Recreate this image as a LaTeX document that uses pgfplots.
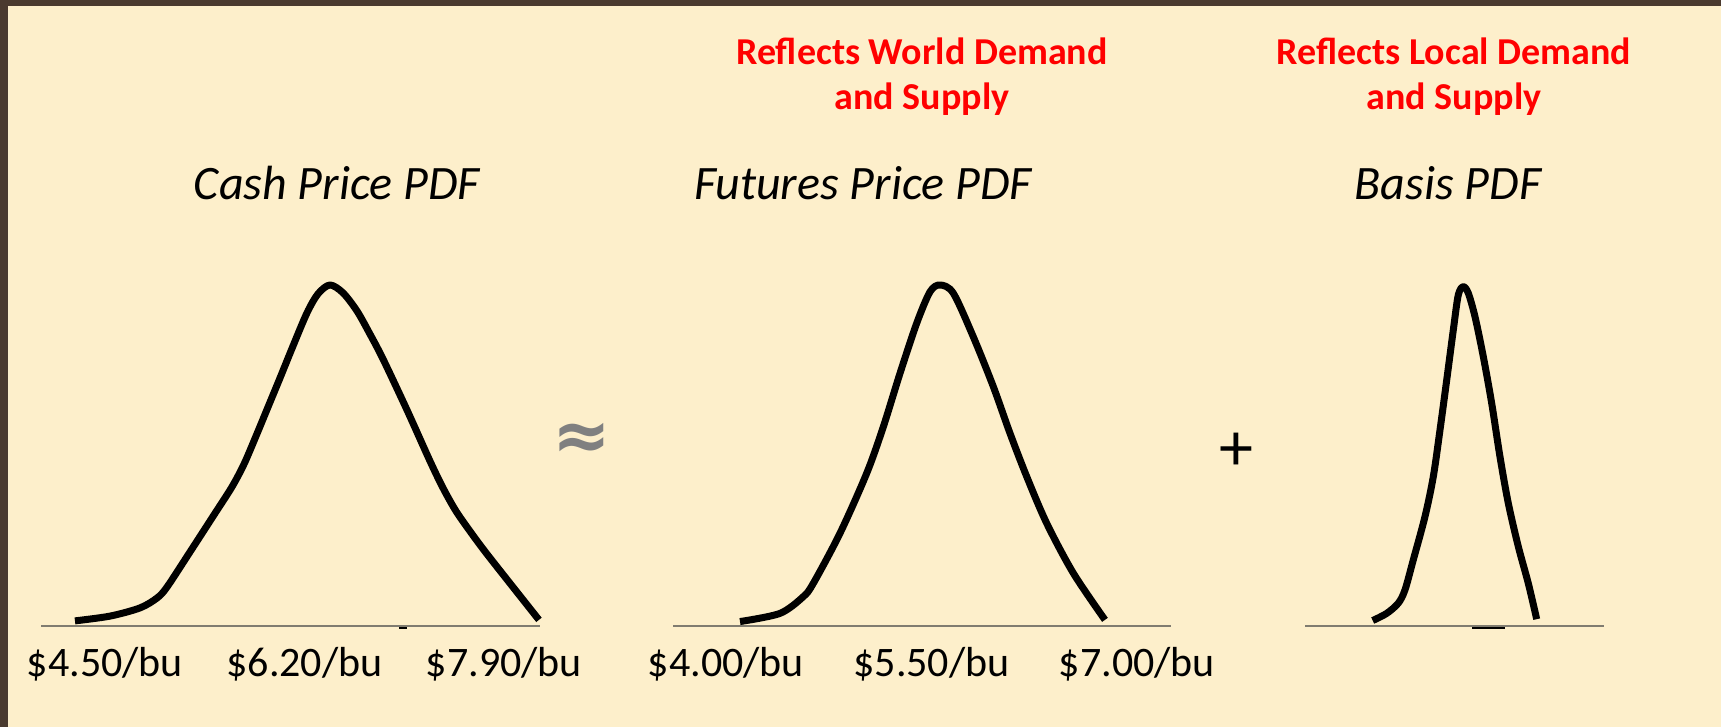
\documentclass[border=0pt]{standalone}
\usepackage{pgfplots}
\pgfplotsset{compat=1.18}
\usepackage{fontspec}
\setmainfont{Carlito}
\newfontfamily\dejavu{DejaVu Sans}

\definecolor{slidebg}{RGB}{253,239,203}
\definecolor{slideframe}{RGB}{74,58,47}
\definecolor{baseline}{RGB}{128,124,112}
\definecolor{approxgray}{RGB}{128,128,128}

% one px of the slide = 0.5pt
\pgfplotsset{
  pdfaxis/.style={
    axis x line=bottom, axis y line=none,
    x axis line style={-, draw=baseline, line width=0.75pt},
    ymin=0, ymax=1.05, y=170.5pt,
    ytick=\empty, major tick length=0pt,
    clip=false, anchor=south west,
    xticklabel style={anchor=base, yshift=-25.5pt, font=\fontsize{21}{25}\selectfont},
  },
  pdfcurve/.style={black, line width=3.5pt, smooth, tension=0.5, line join=round, no marks},
}

\begin{document}
\begin{tikzpicture}
\fill[slidebg] (0pt,0pt) rectangle (860.5pt,363.5pt);
\fill[slideframe] (0pt,360.5pt) rectangle (860.5pt,363.5pt);
\fill[slideframe] (0pt,0pt) rectangle (4pt,363.5pt);

% cash price
\begin{axis}[pdfaxis, at={(20.5pt,50.5pt)}, x=58.675pt,
  xmin=3.9546, xmax=8.2068,
  xtick={4.5,6.2,7.9}, xticklabels={\$4.50/bu,\$6.20/bu,\$7.90/bu}]
\addplot[pdfcurve] coordinates {
  (4.244,0.015) (4.543,0.029) (4.798,0.053) (4.943,0.082) (5.028,0.114)
  (5.224,0.217) (5.429,0.326) (5.582,0.408) (5.685,0.475) (5.787,0.557)
  (5.889,0.642) (5.991,0.727) (6.102,0.821) (6.221,0.918) (6.315,0.974)
  (6.417,1.000) (6.528,0.977) (6.647,0.924) (6.758,0.856) (6.869,0.783)
  (7.074,0.633) (7.269,0.484) (7.380,0.405) (7.491,0.337) (7.627,0.270)
  (7.755,0.211) (7.977,0.114) (8.198,0.018)
};
\addplot[black, line width=1pt] coordinates {(7.005,-0.006) (7.073,-0.006)};
\end{axis}

% futures price
\begin{axis}[pdfaxis, at={(336.5pt,50.5pt)}, x=68.5pt,
  xmin=3.613, xmax=7.248,
  xtick={4,5.5,7}, xticklabels={\$4.00/bu,\$5.50/bu,\$7.00/bu}]
\addplot[pdfcurve] coordinates {
  (4.102,0.013) (4.394,0.037) (4.564,0.086) (4.637,0.125) (4.832,0.272)
  (5.027,0.448) (5.148,0.584) (5.270,0.741) (5.392,0.888) (5.489,0.980)
  (5.562,1.000) (5.659,0.976) (5.805,0.848) (5.951,0.702) (6.073,0.565)
  (6.195,0.438) (6.341,0.301) (6.535,0.155) (6.766,0.018)
};
\end{axis}

% basis
\begin{axis}[pdfaxis, at={(652.5pt,50.5pt)}, x=50pt,
  xmin=-1.583, xmax=1.407, xtick=\empty]
\addplot[pdfcurve] coordinates {
  (-0.906,0.016) (-0.766,0.037) (-0.650,0.067) (-0.583,0.106) (-0.500,0.194)
  (-0.383,0.321) (-0.300,0.438) (-0.233,0.575) (-0.166,0.721) (-0.100,0.868)
  (-0.050,0.971) (0,0.995) (0.050,0.976) (0.117,0.907) (0.200,0.790)
  (0.284,0.653) (0.367,0.496) (0.450,0.360) (0.550,0.233) (0.650,0.125)
  (0.734,0.020)
};
\addplot[black, line width=1.2pt] coordinates {(0.087,-0.006) (0.417,-0.006)};
\end{axis}

% titles
\node[anchor=base, font=\fontsize{24}{29}\selectfont\itshape, inner sep=0pt] at (168.5pt,263.5pt) {Cash Price PDF};
\node[anchor=base, font=\fontsize{24}{29}\selectfont\itshape, inner sep=0pt] at (431.5pt,263.5pt) {Futures Price PDF};
\node[anchor=base, font=\fontsize{24}{29}\selectfont\itshape, inner sep=0pt] at (724pt,263.5pt) {Basis PDF};

% red notes
\node[anchor=base, font=\fontsize{19}{23}\selectfont\bfseries, text=red, inner sep=0pt] at (461pt,331pt) {Reflects World Demand};
\node[anchor=base, font=\fontsize{19}{23}\selectfont\bfseries, text=red, inner sep=0pt] at (461pt,308.5pt) {and Supply};
\node[anchor=base, font=\fontsize{19}{23}\selectfont\bfseries, text=red, inner sep=0pt] at (727pt,331pt) {Reflects Local Demand};
\node[anchor=base, font=\fontsize{19}{23}\selectfont\bfseries, text=red, inner sep=0pt] at (727pt,308.5pt) {and Supply};

% operators
\node[text=approxgray, font=\fontsize{35}{40}\selectfont\dejavu\bfseries, inner sep=0pt] at (291pt,143pt) {≈};
\node[font=\fontsize{34}{40}\selectfont, inner sep=0pt] at (618pt,137.5pt) {+};

\pgfresetboundingbox
\path[use as bounding box] (0pt,0pt) rectangle (860.5pt,363.5pt);
\end{tikzpicture}
\end{document}
